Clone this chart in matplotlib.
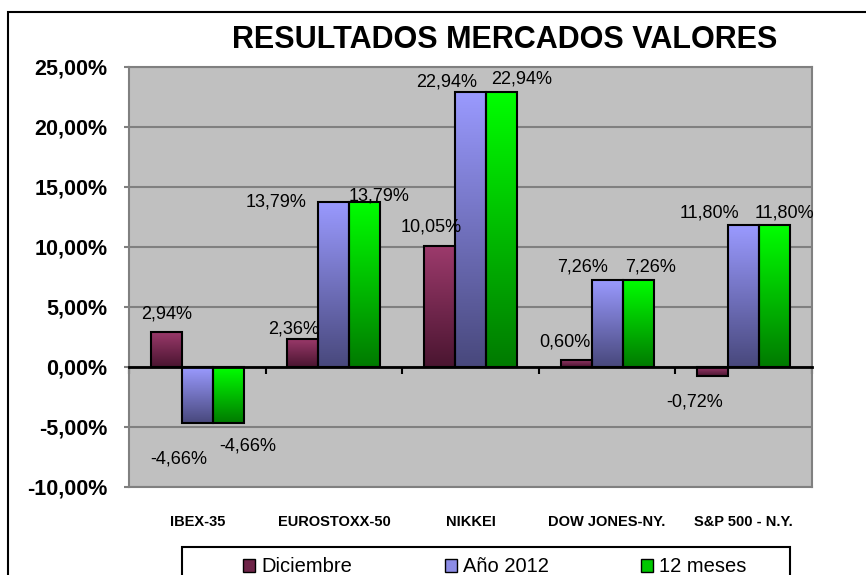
import numpy as np
import matplotlib.pyplot as plt
from matplotlib.colors import LinearSegmentedColormap
from matplotlib.patches import Patch, Rectangle

plt.rcParams['font.family'] = ['Liberation Sans', 'DejaVu Sans']

# Data
mercados = ['IBEX-35', 'EUROSTOXX-50', 'NIKKEI', 'DOW JONES-NY.', 'S&P 500 - N.Y.']
series = ['Diciembre', 'Año 2012', '12 meses']
diciembre = [2.94, 2.36, 10.05, 0.60, -0.72]
anio_2012 = [-4.66, 13.79, 22.94, 7.26, 11.80]
doce_meses = [-4.66, 13.79, 22.94, 7.26, 11.80]
y_ticks = [-10, -5, 0, 5, 10, 15, 20, 25]

# gradient colours (top, bottom) and legend swatch colour
grad_colors = [('#9c3a6c', '#4a1530'), ('#9a9aff', '#48487c'), ('#00ff00', '#007a00')]
swatch = ['#6e2448', '#8c8ce6', '#00c800']

# label offsets in pixels (dx, dy) from bar end
offsets = [
    [(0, 18), (-9, 10), (-8, 19), (-11, 18), (-18, -26)],
    [(-19, -36), (-58, 0), (-24, 10), (-25, 13), (-34, 12)],
    [(19, -23), (14, 6), (20, 13), (12, 13), (10, 12)],
]

W, H = 866, 575
fig = plt.figure(figsize=(W / 100, H / 100), dpi=100)
ax = fig.add_axes([129 / W, 1 - 487 / H, (812 - 129) / W, 420 / H])
ax.set_facecolor('#c0c0c0')

x = np.arange(len(mercados))
w = 0.227
grad = np.linspace(0, 1, 256).reshape(-1, 1)
for k, vals in enumerate([diciembre, anio_2012, doce_meses]):
    cmap = LinearSegmentedColormap.from_list('g%d' % k, grad_colors[k])
    xs = x + (k - 1) * w
    for i, v in enumerate(vals):
        ax.imshow(grad, extent=[xs[i] - w / 2, xs[i] + w / 2, min(v, 0), max(v, 0)],
                  origin='upper', cmap=cmap, aspect='auto', zorder=2)
        dx, dy = offsets[k][i]
        ax.annotate(f'{v:.2f}'.replace('.', ',') + '%', (xs[i], v),
                    xytext=(dx, dy), textcoords='offset pixels',
                    ha='center', va='center', fontsize=13, zorder=5)
    ax.bar(xs, vals, w, facecolor='none', edgecolor='black', linewidth=1.5, zorder=3)

ax.set_xlim(-0.5, len(mercados) - 0.5)
ax.set_ylim(-10, 25)
ax.set_yticks(y_ticks)
ax.set_yticklabels([f'{t:.2f}'.replace('.', ',') + '%' for t in y_ticks],
                   fontsize=15.5, fontweight='bold')
ax.tick_params(axis='y', length=3.6, width=1.5, color='#808080', pad=12)
ax.yaxis.grid(True, color='#808080', linewidth=1.5, zorder=1)
ax.set_axisbelow(True)

# zero axis with boundary ticks
ax.spines['bottom'].set_position(('data', 0))
ax.spines['bottom'].set_color('black')
ax.spines['bottom'].set_linewidth(2)
ax.spines['bottom'].set_zorder(4)
ax.set_xticks(np.arange(-0.5, len(mercados), 1))
ax.tick_params(axis='x', length=5, width=1.5, color='black', labelbottom=False)
for s in ['left', 'top', 'right']:
    ax.spines[s].set_color('#808080')
    ax.spines[s].set_linewidth(1.5)
ax.axhline(-10, color='#808080', linewidth=1.5, clip_on=False)

for i, m in enumerate(mercados):
    ax.text(i, -12.9, m, ha='center', va='center', fontsize=10.5, fontweight='bold')

fig.text(505 / W, 1 - 40 / H, 'RESULTADOS MERCADOS VALORES', ha='center', va='center',
         fontsize=22, fontweight='bold')

handles = [Patch(facecolor=swatch[k], edgecolor='black', linewidth=1) for k in range(3)]
leg = fig.legend(handles, series, loc='center left', bbox_to_anchor=(243 / W, 1 - 567 / H),
                 ncol=3, fontsize=14.5, frameon=False,
                 handlelength=0.6, handleheight=0.6, handletextpad=0.3,
                 columnspacing=4.6, borderpad=0, borderaxespad=0)
# legend box
fig.patches.append(Rectangle((182 / W, -0.1), (790 - 182) / W, 0.1 + 1 - 547 / H,
                             transform=fig.transFigure, fill=False,
                             edgecolor='black', linewidth=1.5))

# outer chart border (left and top visible)
fig.patches.append(Rectangle((8 / W, -0.1), 1.2, 1 - 12 / H + 0.1, transform=fig.transFigure,
                             fill=False, edgecolor='black', linewidth=1.5))

fig.savefig('out.png', dpi=100)
